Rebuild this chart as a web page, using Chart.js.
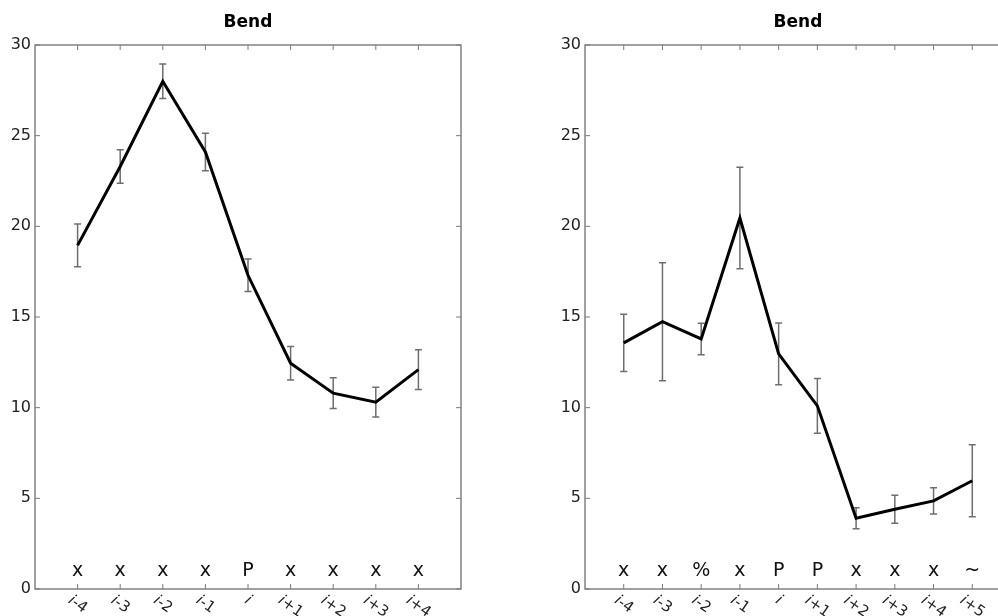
<!DOCTYPE html>
<html>
<head>
<meta charset="utf-8">
<script src="https://cdn.jsdelivr.net/npm/chart.js@4.4.1/dist/chart.umd.min.js"></script>
<style>
    html, body { margin: 0; padding: 0; background: #fff; overflow: hidden; width: 998px; height: 616px; }
    .panel { position: absolute; top: 0; width: 490px; height: 616px; }
    #left-panel { left: 0; }
    #right-panel { left: 550px; }
    canvas { display: block; width: 490px; height: 616px; }
</style>
</head>
<body>
<div class="panel" id="left-panel"><canvas id="leftChart" width="490" height="616"></canvas></div>
<div class="panel" id="right-panel"><canvas id="rightChart" width="490" height="616"></canvas></div>
<script>
// left panel
const leftPositions = ["i-4", "i-3", "i-2", "i-1", "i", "i+1", "i+2", "i+3", "i+4"];
const leftResidues = ["x", "x", "x", "x", "P", "x", "x", "x", "x"];
const leftBend = [18.95, 23.3, 28.0, 24.1, 17.3, 12.45, 10.8, 10.3, 12.1];
const leftErr = [1.18, 0.92, 0.95, 1.03, 0.9, 0.92, 0.85, 0.82, 1.1];

// right panel
const rightPositions = ["i-4", "i-3", "i-2", "i-1", "i", "i+1", "i+2", "i+3", "i+4", "i+5"];
const rightResidues = ["x", "x", "%", "x", "P", "P", "x", "x", "x", "~"];
const rightBend = [13.57, 14.74, 13.79, 20.46, 12.97, 10.1, 3.9, 4.4, 4.86, 5.97];
const rightErr = [1.58, 3.25, 0.87, 2.8, 1.7, 1.51, 0.58, 0.77, 0.72, 1.98];

const yTicks = [0, 5, 10, 15, 20, 25, 30];
const chartTitle = "Bend";

const spineColor = "#7a7a7a";
const errColor = "#6e6e6e";

const bendDecor = {
    id: "bendDecor",
    beforeDatasetsDraw(chart) {
        const ctx = chart.ctx;
        const xs = chart.scales.x;
        const ys = chart.scales.y;
        const ds = chart.data.datasets[0];
        ctx.save();
        ctx.strokeStyle = errColor;
        ctx.lineWidth = 1.5;
        ds.data.forEach((p, i) => {
            const e = ds.errors[i];
            const x = xs.getPixelForValue(p.x);
            const top = ys.getPixelForValue(p.y + e);
            const bot = ys.getPixelForValue(p.y - e);
            ctx.beginPath();
            ctx.moveTo(x, top);
            ctx.lineTo(x, bot);
            ctx.moveTo(x - 3.5, top);
            ctx.lineTo(x + 3.5, top);
            ctx.moveTo(x - 3.5, bot);
            ctx.lineTo(x + 3.5, bot);
            ctx.stroke();
        });
        ctx.restore();
    },
    afterDraw(chart) {
        const ctx = chart.ctx;
        const area = chart.chartArea;
        const xs = chart.scales.x;
        const ys = chart.scales.y;
        const ds = chart.data.datasets[0];

        ctx.save();
        // title centred over the plot box
        ctx.fillStyle = "#000";
        ctx.font = "bold 17px 'DejaVu Sans'";
        ctx.textAlign = "center";
        ctx.textBaseline = "middle";
        ctx.fillText(chartTitle, (area.left + area.right) / 2, 23);

        // frame
        ctx.strokeStyle = spineColor;
        ctx.lineWidth = 1.4;
        ctx.strokeRect(area.left, area.top, area.right - area.left, area.bottom - area.top);

        // inner ticks
        ctx.lineWidth = 1;
        ctx.beginPath();
        yTicks.forEach(v => {
            const y = ys.getPixelForValue(v);
            ctx.moveTo(area.left, y);
            ctx.lineTo(area.left + 5, y);
            ctx.moveTo(area.right, y);
            ctx.lineTo(area.right - 5, y);
        });
        ds.positions.forEach((_, i) => {
            const x = xs.getPixelForValue(i);
            ctx.moveTo(x, area.bottom);
            ctx.lineTo(x, area.bottom - 5);
            ctx.moveTo(x, area.top);
            ctx.lineTo(x, area.top + 5);
        });
        ctx.stroke();

        // residue letters
        ctx.fillStyle = "#111";
        ctx.font = "19px 'DejaVu Sans'";
        ctx.textAlign = "center";
        ctx.textBaseline = "alphabetic";
        ds.residues.forEach((r, i) => {
            ctx.fillText(r, xs.getPixelForValue(i), area.bottom - 13);
        });

        // rotated position labels
        const angle = 35 * Math.PI / 180;
        const h = 15;
        ds.positions.forEach((lab, i) => {
            const head = lab.charAt(0);
            const tail = lab.slice(1);
            ctx.font = "italic 15px 'DejaVu Sans'";
            const wHead = ctx.measureText(head).width;
            ctx.font = "15px 'DejaVu Sans'";
            const wTail = ctx.measureText(tail).width;
            const w = wHead + wTail;
            const boxH = w * Math.sin(angle) + h * Math.cos(angle);
            const cx = xs.getPixelForValue(i);
            const cy = area.bottom + 4 + boxH / 2;
            ctx.save();
            ctx.translate(cx, cy);
            ctx.rotate(angle);
            ctx.textAlign = "left";
            ctx.textBaseline = "middle";
            ctx.fillStyle = "#222";
            ctx.font = "italic 15px 'DejaVu Sans'";
            ctx.fillText(head, -w / 2, 0);
            ctx.font = "15px 'DejaVu Sans'";
            ctx.fillText(tail, -w / 2 + wHead, 0);
            ctx.restore();
        });
        ctx.restore();
    }
};

function makeBendChart(canvasId, positions, residues, values, errors) {
    const points = values.map((v, i) => ({ x: i, y: v }));
    return new Chart(document.getElementById(canvasId), {
        type: "line",
        data: {
            datasets: [{
                data: points,
                errors: errors,
                positions: positions,
                residues: residues,
                borderColor: "#000",
                borderWidth: 3,
                pointRadius: 0,
                tension: 0,
                fill: false
            }]
        },
        options: {
            responsive: false,
            animation: false,
            layout: { padding: { left: 0, right: 29, top: 45, bottom: 0 } },
            scales: {
                x: {
                    type: "linear",
                    min: -1,
                    max: positions.length,
                    grid: { display: false, drawTicks: false },
                    border: { display: false },
                    ticks: { display: false },
                    afterFit: scale => { scale.height = 27; }
                },
                y: {
                    min: 0,
                    max: 30,
                    grid: { display: false, drawTicks: false },
                    border: { display: false },
                    ticks: {
                        stepSize: 5,
                        padding: 4,
                        color: "#222",
                        font: { family: "'DejaVu Sans'", size: 16 }
                    },
                    afterFit: scale => { scale.width = 35; }
                }
            },
            plugins: {
                legend: { display: false },
                tooltip: { enabled: false },
                title: { display: false }
            }
        },
        plugins: [bendDecor]
    });
}

makeBendChart("leftChart", leftPositions, leftResidues, leftBend, leftErr);
makeBendChart("rightChart", rightPositions, rightResidues, rightBend, rightErr);
</script>
</body>
</html>
